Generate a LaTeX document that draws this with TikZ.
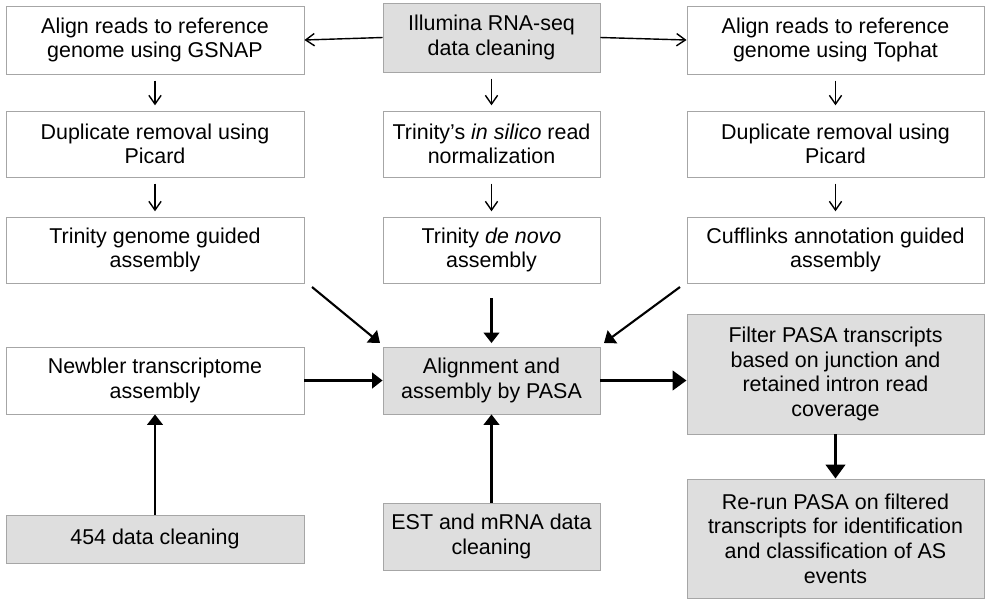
\documentclass[tikz,border=0pt]{standalone}
\usepackage{fontspec}
\setmainfont{Liberation Sans}
\usetikzlibrary{arrows.meta}
\begin{document}
\begin{tikzpicture}[x=0.02cm,y=-0.02cm,
 box/.style={draw=black!35,line width=0.5pt,align=center,inner sep=0pt,font=\fontsize{12.2}{14}\selectfont},
 wb/.style={box,fill=white},
 gb/.style={box,fill=black!13},
 ar/.style={-{Straight Barb[length=5pt,width=7pt]},line width=0.8pt},
 tar/.style={-{Triangle[length=6pt,width=9pt]},line width=1.2pt},
 bar/.style={-{Triangle[length=8pt,width=11pt]},line width=2.2pt}]
\useasboundingbox (0,0) rectangle (992,606);
\newcommand{\bx}[6]{\node[#1,minimum width=(#4-#3)*0.02cm,minimum height=(#6-#5)*0.02cm] (#2) at ({(#3+#4)/2},{(#5+#6)/2})}
\bx{wb}{a1}{6}{304}{6}{74}{Align reads to reference\\genome using GSNAP};
\bx{gb}{b1}{383}{600}{3}{72}{Illumina RNA-seq\\data cleaning};
\bx{wb}{c1}{687}{984}{6}{74}{Align reads to reference\\genome using Tophat};
\bx{wb}{a2}{6}{304}{111}{177}{Duplicate removal using\\Picard};
\bx{wb}{b2}{383}{600}{111}{177}{Trinity's \textit{in silico} read\\normalization};
\bx{wb}{c2}{687}{984}{111}{177}{Duplicate removal using\\Picard};
\bx{wb}{a3}{6}{304}{217}{283}{Trinity genome guided\\assembly};
\bx{wb}{b3}{383}{600}{217}{283}{Trinity \textit{de novo}\\assembly};
\bx{wb}{c3}{687}{984}{217}{283}{Cufflinks annotation guided\\assembly};
\bx{wb}{a4}{6}{304}{347}{414}{Newbler transcriptome\\assembly};
\bx{gb}{b4}{383}{600}{347}{414}{Alignment and\\assembly by PASA};
\bx{gb}{c4}{687}{984}{314}{434}{Filter PASA transcripts\\based on junction and\\retained intron read\\coverage};
\bx{gb}{c5}{687}{984}{479}{598}{Re-run PASA on filtered\\transcripts for identification\\and classification of AS\\events};
\bx{gb}{a5}{6}{304}{515}{563}{454 data cleaning};
\bx{gb}{b5}{383}{600}{503}{570}{EST and mRNA data\\cleaning};
\draw[ar] (b1.west) -- (a1.east);
\draw[ar] (b1.east) -- (c1.east-|c1.west);
\foreach \c in {a,b,c}{
 \draw[ar,shorten <=3.5pt,shorten >=3pt] (\c1.south) -- (\c2.north);
 \draw[ar,shorten <=3.5pt,shorten >=3pt] (\c2.south) -- (\c3.north);}
\draw[tar] (312,287) -- (380,343);
\draw[tar,shorten <=8.5pt,shorten >=2pt] (b3.south) -- (b4.north);
\draw[tar] (680,287) -- (604,343);
\draw[tar] (a4.east) -- (b4.west);
\draw[tar] (a5.north) -- (a5.north|-a4.south);
\draw[tar] (b5.north) -- (b4.south);
\draw[bar] (b4.east) -- (c4.west|-b4.east);
\draw[bar] (c4.south) -- (c5.north);
\end{tikzpicture}
\end{document}
